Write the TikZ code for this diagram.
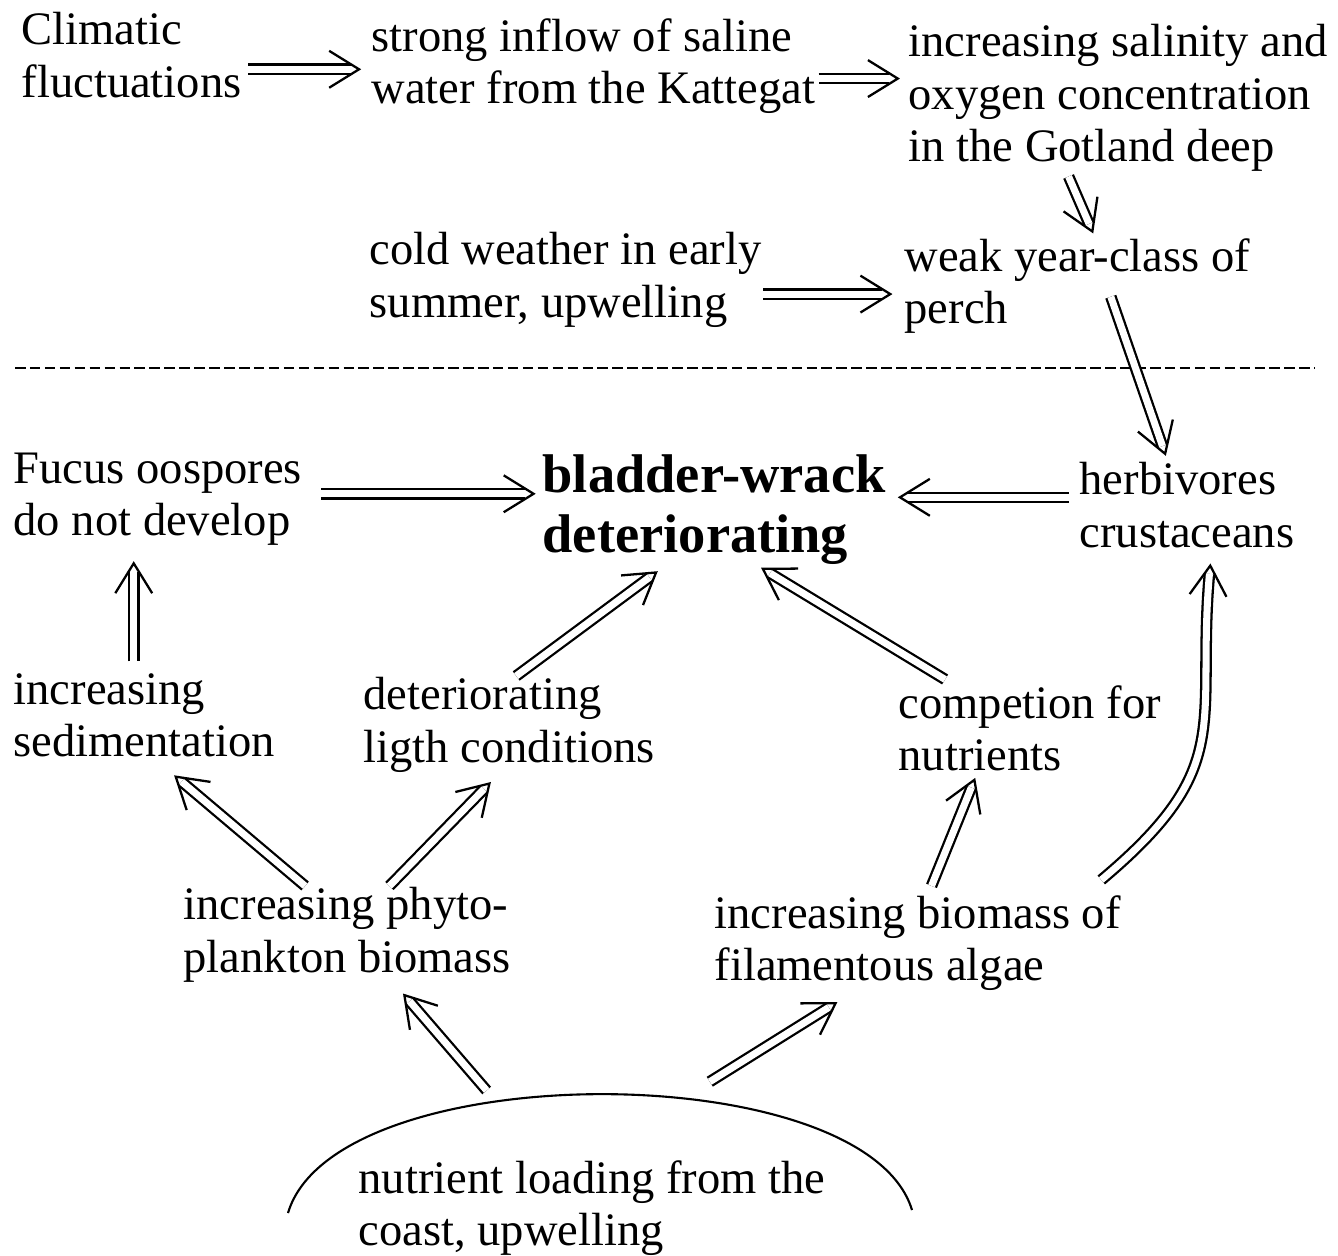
\documentclass[tikz,border=0pt]{standalone}
\usepackage{fontspec}
\setmainfont{Liberation Serif}
\usepackage{tikz}
\usetikzlibrary{arrows.meta,decorations.markings}
\tikzset{
  lbl/.style={anchor=north west, inner sep=0.75pt, align=left, font=\fontsize{26.5}{29.8}\selectfont},
  lblbig/.style={anchor=north west, inner sep=0.75pt, align=left, font=\bfseries\fontsize{31}{34}\selectfont},
  dimp/.style={double, double distance=4pt, line width=1.3pt, shorten >=#1+6pt,
    postaction={decorate, decoration={markings, mark=at position -#1 with {\arrow[line width=1.3pt]{Straight Barb[length=17pt,width=21pt]}}}}},
  dimp/.default=0.01pt
}

\begin{document}
\begin{tikzpicture}[x=0.02cm,y=-0.02cm]
\useasboundingbox (0,0) rectangle (1338,1255);
\draw (20,11) node (clim) [lbl] {Climatic\\fluctuations};
\draw (370,17) node (inflow) [lbl] {strong inflow of saline\\water from the Kattegat};
\draw (907,23) node (salin) [lbl] {increasing salinity and\\oxygen concentration\\in the Gotland deep};
\draw (368,231) node (cold) [lbl] {cold weather in early\\summer, upwelling};
\draw (903,237) node (perch) [lbl] {weak year-class of\\perch};
\draw [line width=1.5pt, dash pattern=on 6pt off 2.5pt] (15,368) -- (1315,368);
\draw (12,451) node (fucus) [lbl] {Fucus oospores\\do not develop};
\draw (541,453) node (wrack) [lblbig] {bladder-wrack\\deteriorating};
\draw (1078,461) node (herb) [lbl] {herbivores\\crustaceans};
\draw (12,672) node (sedim) [lbl] {increasing\\sedimentation};
\draw (362,676) node (light) [lbl] {deteriorating\\ligth conditions};
\draw (897,684) node (compet) [lbl] {competion for\\nutrients};
\draw (182,886) node (phyto) [lbl] {increasing phyto-\\plankton biomass};
\draw (713,894) node (filam) [lbl] {increasing biomass of\\filamentous algae};
\draw (357,1159) node (nutr) [lbl] {nutrient loading from the\\coast, upwelling};
\draw [line width=1.2pt] (288,1213) .. controls (335,1055) and (865,1055) .. (912,1210);

\draw [dimp=5pt, shorten <=3pt] ([yshift=-8pt]clim.east) -- ([yshift=-8pt]clim.east -| inflow.west);
\draw [dimp=4pt, shorten <=1pt] ([yshift=-7pt]inflow.east) -- ([yshift=-7pt]inflow.east -| salin.west);
\draw [dimp, shorten <=2pt] ([xshift=-29pt]salin.south) -- ([xshift=9pt,yshift=2pt]perch.north);
\draw [dimp=6pt] ([yshift=-8pt]cold.east) -- ([yshift=-8pt]cold.east -| perch.west);
\draw [dimp=3pt] ([xshift=19pt,yshift=-6pt]perch.center) -- ([xshift=-11pt]herb.north);
\draw [dimp=3pt, shorten <=10pt] ([yshift=3pt]fucus.east) -- ([yshift=3pt]fucus.east -| wrack.west);
\draw [dimp=6pt, shorten <=5pt] ([yshift=4.5pt]herb.west) -- ([yshift=4.5pt]herb.west -| wrack.east);
\draw [dimp=8pt, shorten <=6pt] ([xshift=-6pt]sedim.north) -- ([xshift=-6pt]sedim.north |- fucus.south);
\draw [dimp=5pt] ([xshift=4pt]light.north) -- ([xshift=-28pt]wrack.south);
\draw [dimp=2pt, shorten <=5pt] ([xshift=-44pt]compet.north) -- ([xshift=25pt]wrack.south);
\draw [dimp=14pt] ([xshift=-24pt]phyto.north) -- ([xshift=6pt]sedim.south);
\draw [dimp=6pt] ([xshift=24pt]phyto.north) -- ([xshift=-6pt]light.south);
\draw [dimp=3pt, shorten <=5pt] ([xshift=6pt]filam.north) -- ([xshift=-30pt]compet.south);
\draw [dimp=8pt] ([xshift=-12pt,yshift=8pt]filam.north east) to[out=40,in=-95,looseness=1.3] ([xshift=14pt]herb.south);
\draw [dimp=7pt] ([xshift=-60pt,yshift=39pt]nutr.north) -- ([xshift=27pt]phyto.south);
\draw [dimp=10pt] ([xshift=67pt,yshift=44pt]nutr.north) -- ([xshift=-37pt]filam.south);
\end{tikzpicture}
\end{document}
